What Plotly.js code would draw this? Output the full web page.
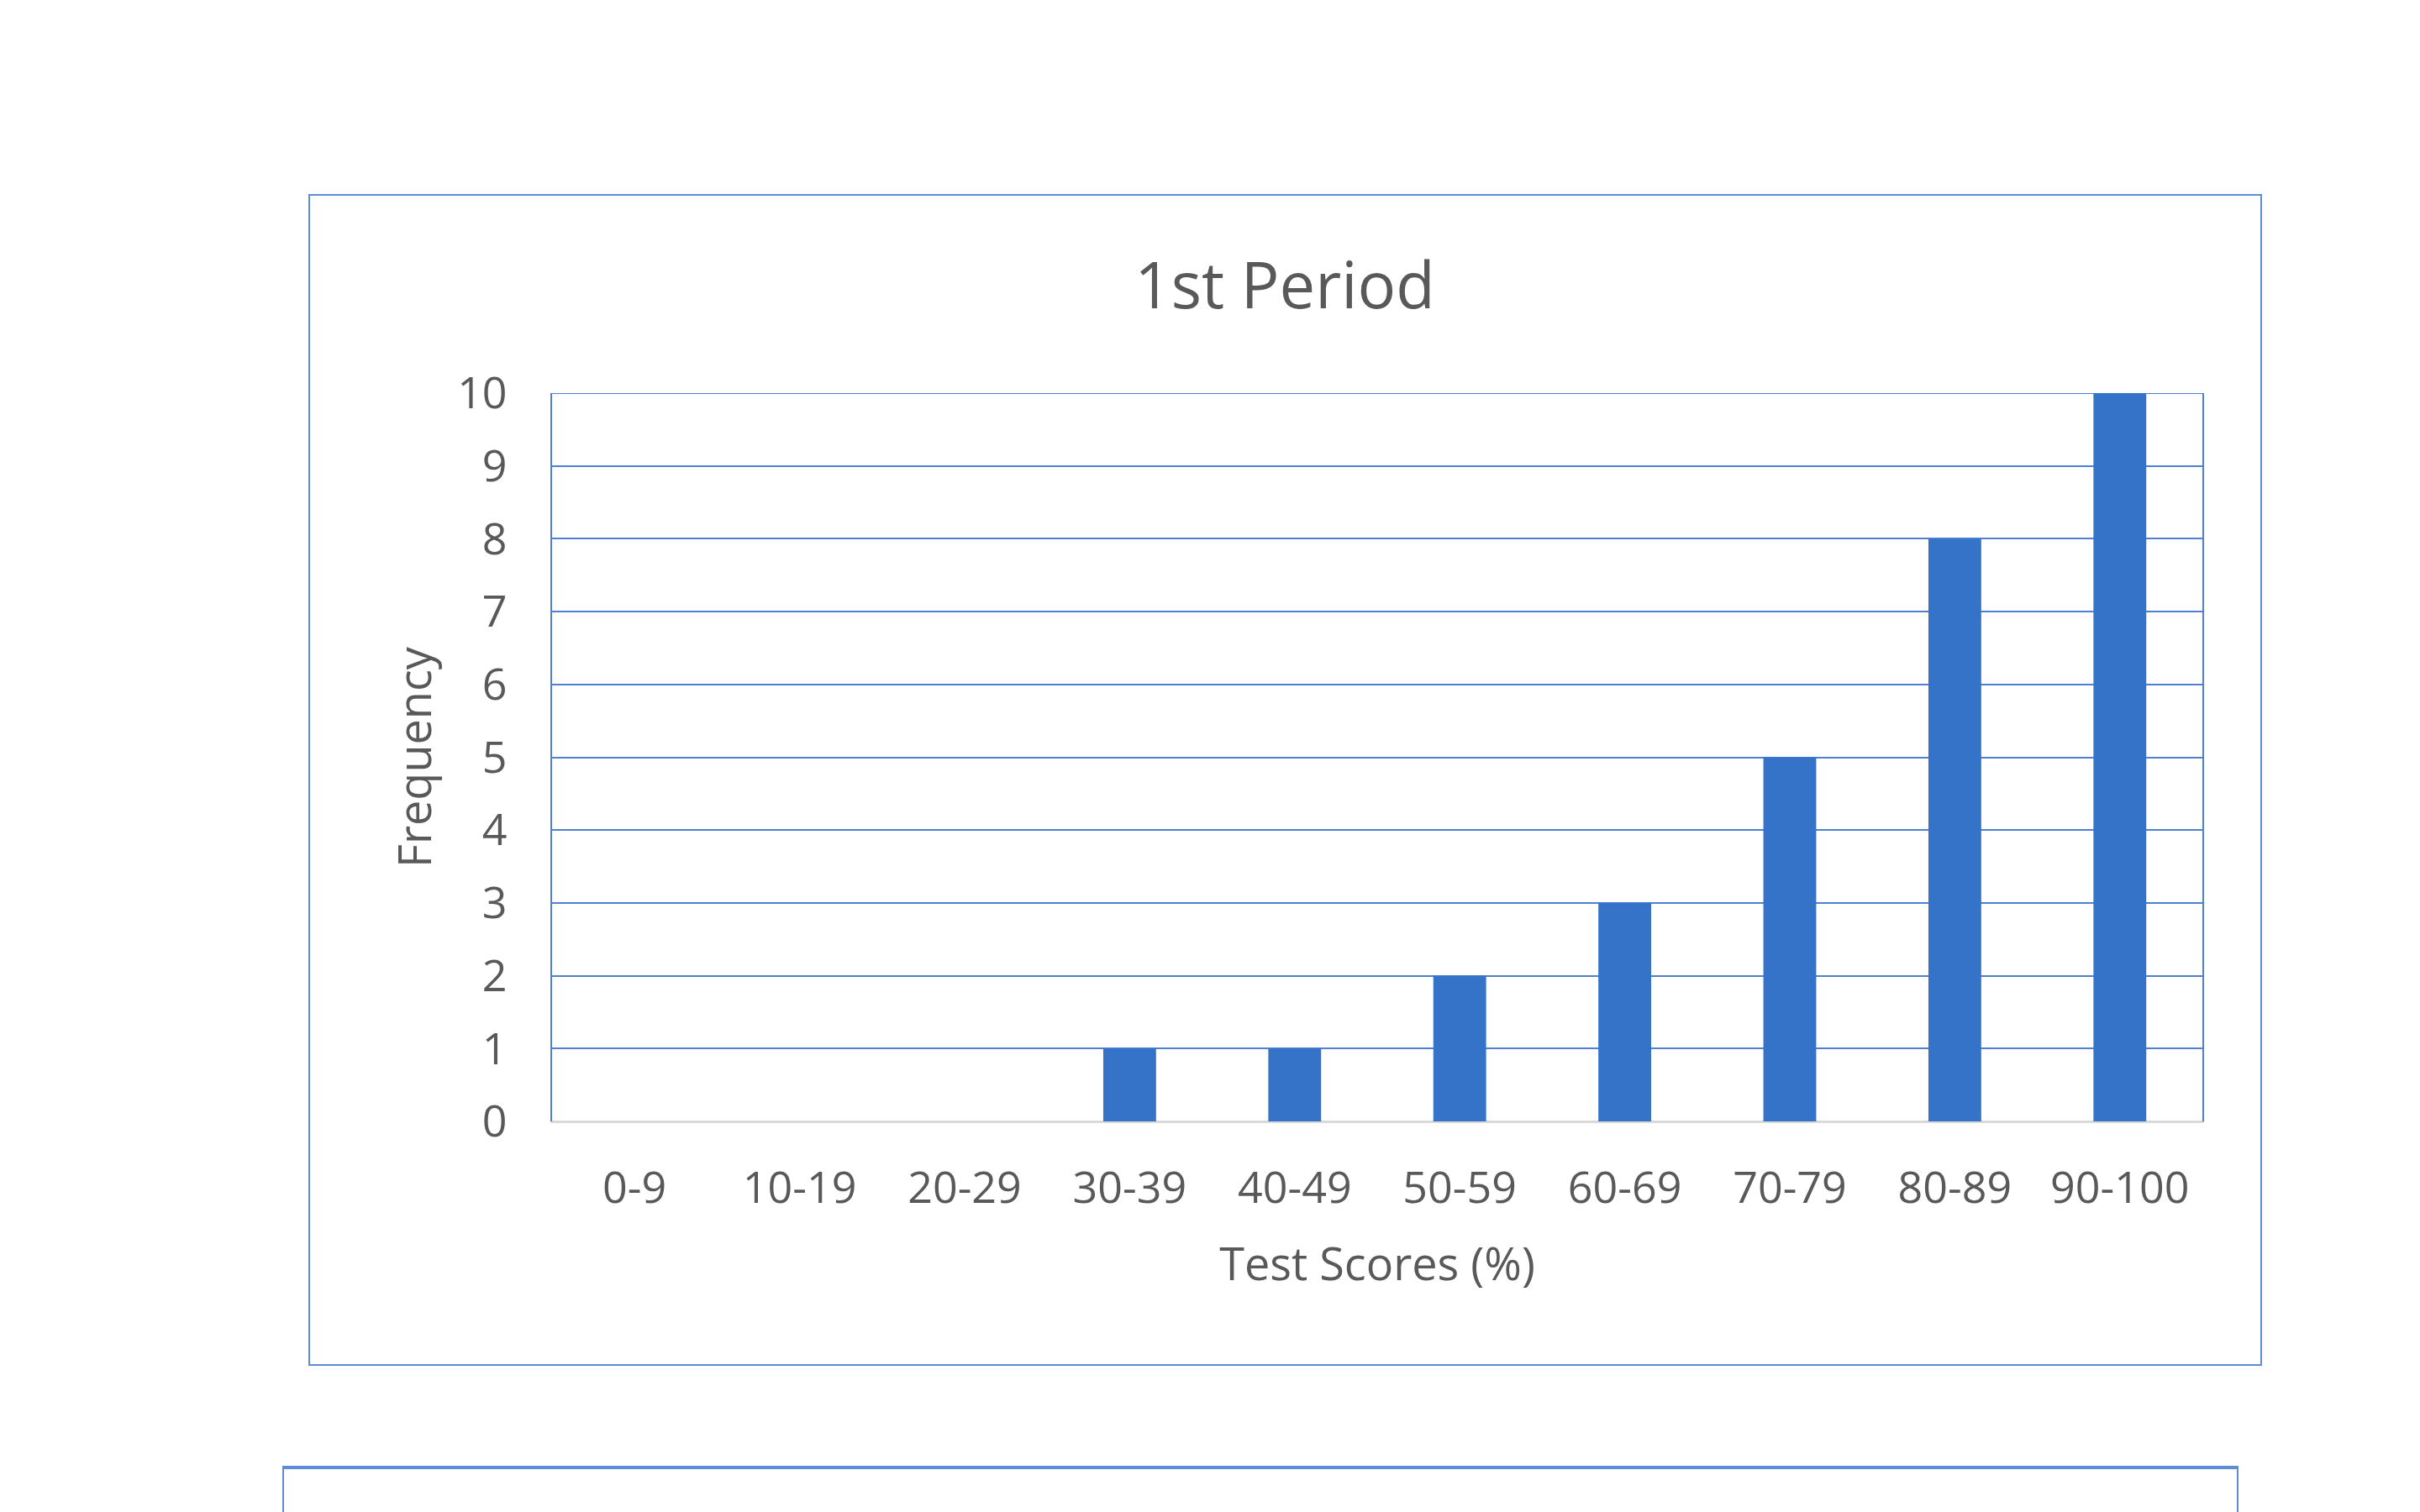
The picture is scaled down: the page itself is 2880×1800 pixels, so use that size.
<!DOCTYPE html>
<html>
<head>
<meta charset="utf-8">
<script src="https://cdn.plot.ly/plotly-3.0.1.min.js"></script>
<style>
  html, body { margin: 0; padding: 0; background: #ffffff; }
  #wrap { position: relative; width: 2880px; height: 1800px; overflow: hidden; background: #fff; }
  .box { position: absolute; border: 2px solid #5e8cd6; box-sizing: border-box; }
  #chart { position: absolute; left: 0; top: 0; width: 2880px; height: 1800px; }
</style>
</head>
<body>
<div id="wrap">
  <div class="box" style="left:367px; top:231px; width:2325px; height:1395px;"></div>
  <div class="box" style="left:336px; top:1745px; width:2328px; height:200px; border-top-width:4px;"></div>
  <div id="chart"></div>
</div>
<script>
const chartTitle = "1st Period";
const categories = ["0-9", "10-19", "20-29", "30-39", "40-49", "50-59", "60-69", "70-79", "80-89", "90-100"];
const frequency = [0, 0, 0, 1, 1, 2, 3, 5, 8, 10];
const xTitle = "Test Scores (%)";
const yTitle = "Frequency";
const yTicks = [0, 1, 2, 3, 4, 5, 6, 7, 8, 9, 10];
const yMax = 10;

const textColor = "#595959";
const gridBlue = "#4f80d4";
const fontFam = "Open Sans, sans-serif";

const trace = {
  type: "bar",
  x: categories,
  y: frequency,
  marker: { color: "#3473c8", line: { width: 0 } },
  hoverinfo: "x+y"
};

const layout = {
  width: 2880,
  height: 1800,
  margin: { l: 657, r: 259, t: 468, b: 465 },
  paper_bgcolor: "rgba(0,0,0,0)",
  plot_bgcolor: "rgba(0,0,0,0)",
  showlegend: false,
  bargap: 0.68,
  title: {
    text: chartTitle,
    font: { family: fontFam, size: 76, color: textColor },
    x: 1529 / 2880,
    xref: "container",
    xanchor: "center",
    y: 1 - 340 / 1800,
    yref: "container",
    yanchor: "middle"
  },
  xaxis: {
    type: "category",
    tickfont: { family: fontFam, size: 52, color: textColor },
    ticks: "",
    ticklabelstandoff: 33,
    showgrid: false,
    showline: true,
    linecolor: "#d9d9d9",
    linewidth: 2,
    zeroline: false,
    title: {
      text: xTitle,
      font: { family: fontFam, size: 54, color: textColor },
      standoff: 40
    }
  },
  yaxis: {
    range: [0, yMax],
    tickvals: yTicks,
    tickfont: { family: fontFam, size: 52, color: textColor },
    ticks: "",
    ticklabelstandoff: 41,
    showgrid: true,
    gridcolor: gridBlue,
    gridwidth: 2,
    showline: true,
    linecolor: gridBlue,
    linewidth: 2,
    mirror: true,
    zeroline: true,
    zerolinecolor: "#d9d9d9",
    zerolinewidth: 2,
    title: {
      text: yTitle,
      font: { family: fontFam, size: 54, color: textColor },
      standoff: 13
    }
  },
  shapes: [{
    type: "line",
    xref: "paper", x0: 0, x1: 1,
    yref: "y", y0: yMax, y1: yMax,
    line: { color: gridBlue, width: 2 },
    layer: "below"
  }]
};

Plotly.newPlot("chart", [trace], layout, { displayModeBar: false, staticPlot: true });
</script>
</body>
</html>
